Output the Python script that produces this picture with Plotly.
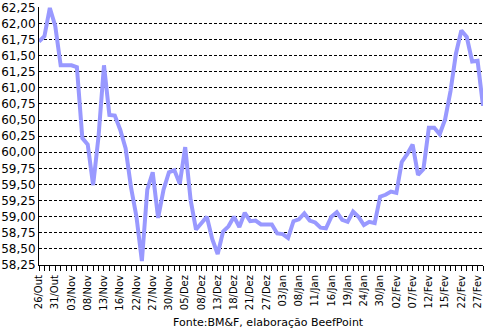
import plotly.graph_objects as go

# Boi gordo - cotações diárias (R$/@), pregões de 26/Out a 27/Fev
precos = [
    61.72, 61.80, 62.24, 61.96, 61.35, 61.35, 61.35, 61.32, 60.22, 60.12,
    59.49, 60.25, 61.35, 60.58, 60.57, 60.35, 60.06, 59.45, 59.00, 58.31,
    59.42, 59.69, 58.98, 59.42, 59.69, 59.72, 59.51, 60.08, 59.26, 58.80,
    58.90, 59.00, 58.65, 58.42, 58.77, 58.85, 59.00, 58.84, 59.06, 58.93,
    58.94, 58.88, 58.88, 58.88, 58.74, 58.73, 58.67, 58.93, 58.96, 59.05,
    58.94, 58.91, 58.83, 58.82, 59.00, 59.07, 58.95, 58.92, 59.08, 59.00,
    58.87, 58.92, 58.90, 59.31, 59.34, 59.39, 59.37, 59.85, 59.97, 60.12,
    59.65, 59.74, 60.38, 60.38, 60.28, 60.51, 60.95, 61.53, 61.89, 61.79,
    61.41, 61.42, 60.72,
]

# Datas exibidas no eixo (uma a cada três pregões)
rotulos_datas = [
    "26/Out", "31/Out", "03/Nov", "08/Nov", "13/Nov", "16/Nov", "22/Nov",
    "27/Nov", "30/Nov", "05/Dez", "08/Dez", "13/Dez", "18/Dez", "21/Dez",
    "27/Dez", "03/Jan", "08/Jan", "11/Jan", "16/Jan", "19/Jan", "24/Jan",
    "30/Jan", "02/Fev", "07/Fev", "12/Fev", "15/Fev", "22/Fev", "27/Fev",
]

# Marcas do eixo vertical
valores_y = [58.25 + 0.25 * k for k in range(17)]
rotulos_y = [f"{v:.2f}".replace(".", ",") for v in valores_y]

pregoes = list(range(len(precos)))
posicoes_datas = [3 * k for k in range(len(rotulos_datas))]

fonte = "DejaVu Sans, Verdana, sans-serif"

fig = go.Figure(
    go.Scatter(
        x=pregoes,
        y=precos,
        mode="lines",
        line=dict(color="#9999FF", width=4),
        hoverinfo="skip",
    )
)

fig.update_layout(
    width=484,
    height=330,
    margin=dict(l=39, r=1, t=3, b=65),
    paper_bgcolor="white",
    plot_bgcolor="white",
    showlegend=False,
    font=dict(family=fonte, color="black"),
    annotations=[
        dict(
            text="Fonte:BM&F, elaboração BeefPoint",
            xref="paper", yref="paper",
            x=0.516, y=-0.221,
            xanchor="center", yanchor="middle",
            showarrow=False,
            font=dict(family=fonte, size=11, color="black"),
        )
    ],
)

fig.update_xaxes(
    range=[0, len(precos) - 1],
    showgrid=False,
    zeroline=False,
    showline=True,
    linecolor="black",
    linewidth=1,
    tickmode="array",
    tickvals=posicoes_datas,
    ticktext=rotulos_datas,
    tickangle=-90,
    ticks="outside",
    ticklen=5,
    tickcolor="black",
    tickfont=dict(family=fonte, size=10, color="black"),
    minor=dict(
        tick0=0, dtick=1, ticks="outside", ticklen=5,
        tickcolor="black", showgrid=False,
    ),
)

fig.update_yaxes(
    range=[58.25, 62.255],
    tickmode="array",
    tickvals=valores_y,
    ticktext=rotulos_y,
    ticklabeloverflow="allow",
    showgrid=True,
    gridcolor="black",
    gridwidth=1,
    griddash="3px,2px",
    zeroline=False,
    showline=True,
    linecolor="black",
    linewidth=1,
    ticks="",
    tickfont=dict(family=fonte, size=12, color="black"),
)

fig.write_html("out.html")
